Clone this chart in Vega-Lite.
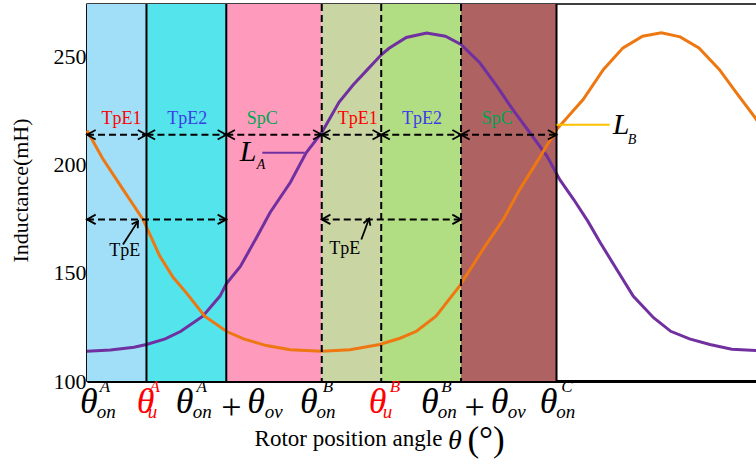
{
"$schema": "https://vega.github.io/schema/vega-lite/v6.json",
"autosize": {"type": "none"},
"padding": {"left": 87, "top": 4, "right": 0, "bottom": 84},
"width": 680,
"height": 377,
"background": "white",
"config": {"view": {"stroke": "#000", "strokeWidth": 1.5}, "font": "Liberation Serif"},
"resolve": {"scale": {"color": "independent"}},
"datasets": {
"regions": [
{"x": 0, "x2": 3.8, "seg": "r1"}, {"x": 3.8, "x2": 8.9, "seg": "r2"}, {"x": 8.9, "x2": 15, "seg": "r3"},
{"x": 15, "x2": 18.8, "seg": "r4"}, {"x": 18.8, "x2": 23.9, "seg": "r5"}, {"x": 23.9, "x2": 30, "seg": "r6"}
],
"bounds": [
{"x": 3.8, "kind": "solid"}, {"x": 8.9, "kind": "solid"}, {"x": 30, "kind": "solid"},
{"x": 15, "kind": "dash"}, {"x": 18.8, "kind": "dash"}, {"x": 23.9, "kind": "dash"}
],
"curves": [
{"s": "LA", "x": 0, "y": 113.8}, {"s": "LA", "x": 1.5, "y": 114.3}, {"s": "LA", "x": 3.0, "y": 115.6}, {"s": "LA", "x": 3.8, "y": 116.9},
{"s": "LA", "x": 5.0, "y": 119.5}, {"s": "LA", "x": 6.0, "y": 123}, {"s": "LA", "x": 7.4, "y": 130}, {"s": "LA", "x": 8.5, "y": 139.3},
{"s": "LA", "x": 8.9, "y": 145}, {"s": "LA", "x": 9.8, "y": 153}, {"s": "LA", "x": 10.8, "y": 166}, {"s": "LA", "x": 11.7, "y": 178},
{"s": "LA", "x": 13.0, "y": 192}, {"s": "LA", "x": 14.0, "y": 205.6}, {"s": "LA", "x": 15.0, "y": 215}, {"s": "LA", "x": 16.1, "y": 229},
{"s": "LA", "x": 17.0, "y": 237}, {"s": "LA", "x": 17.9, "y": 244}, {"s": "LA", "x": 18.8, "y": 251}, {"s": "LA", "x": 19.3, "y": 254},
{"s": "LA", "x": 20.4, "y": 259}, {"s": "LA", "x": 21.7, "y": 261.1}, {"s": "LA", "x": 22.9, "y": 259.6}, {"s": "LA", "x": 23.9, "y": 255.8},
{"s": "LA", "x": 25.1, "y": 247.3}, {"s": "LA", "x": 26.2, "y": 236.4}, {"s": "LA", "x": 27.2, "y": 225.7}, {"s": "LA", "x": 28.3, "y": 214.9},
{"s": "LA", "x": 29.4, "y": 204}, {"s": "LA", "x": 30.2, "y": 193.3}, {"s": "LA", "x": 31.1, "y": 184}, {"s": "LA", "x": 32.0, "y": 174},
{"s": "LA", "x": 32.8, "y": 164}, {"s": "LA", "x": 33.9, "y": 151}, {"s": "LA", "x": 34.9, "y": 139.3}, {"s": "LA", "x": 36.2, "y": 129.3},
{"s": "LA", "x": 37.3, "y": 123}, {"s": "LA", "x": 38.5, "y": 119.5}, {"s": "LA", "x": 39.8, "y": 116.9}, {"s": "LA", "x": 41.2, "y": 114.7},
{"s": "LA", "x": 43.4, "y": 113.8},
{"s": "LB", "x": 0, "y": 215.9}, {"s": "LB", "x": 1.0, "y": 203}, {"s": "LB", "x": 2.3, "y": 188.7}, {"s": "LB", "x": 2.73, "y": 184},
{"s": "LB", "x": 3.58, "y": 174.8}, {"s": "LB", "x": 4.65, "y": 157.8}, {"s": "LB", "x": 5.5, "y": 148}, {"s": "LB", "x": 6.35, "y": 140.8},
{"s": "LB", "x": 7.52, "y": 130}, {"s": "LB", "x": 8.9, "y": 123}, {"s": "LB", "x": 10.0, "y": 119.5}, {"s": "LB", "x": 11.46, "y": 116.4},
{"s": "LB", "x": 13.0, "y": 114.5}, {"s": "LB", "x": 15.0, "y": 113.8}, {"s": "LB", "x": 16.8, "y": 114.5}, {"s": "LB", "x": 18.7, "y": 116.9},
{"s": "LB", "x": 20.0, "y": 119.8}, {"s": "LB", "x": 21.05, "y": 123}, {"s": "LB", "x": 22.3, "y": 130}, {"s": "LB", "x": 23.8, "y": 143.9},
{"s": "LB", "x": 25.3, "y": 160.9}, {"s": "LB", "x": 26.6, "y": 174.8}, {"s": "LB", "x": 27.65, "y": 188.7}, {"s": "LB", "x": 28.8, "y": 202},
{"s": "LB", "x": 30.0, "y": 216.4}, {"s": "LB", "x": 31.7, "y": 230.3}, {"s": "LB", "x": 33.0, "y": 244.2}, {"s": "LB", "x": 34.25, "y": 254.2},
{"s": "LB", "x": 35.5, "y": 259.6}, {"s": "LB", "x": 36.7, "y": 261.2}, {"s": "LB", "x": 37.9, "y": 259.3}, {"s": "LB", "x": 39.1, "y": 254.2},
{"s": "LB", "x": 40.4, "y": 244.2}, {"s": "LB", "x": 41.5, "y": 233.4}, {"s": "LB", "x": 42.7, "y": 221.8}, {"s": "LB", "x": 43.4, "y": 214}
],
"spans": [
{"x": 0, "x2": 3.8, "y": 214}, {"x": 3.8, "x2": 8.9, "y": 214}, {"x": 8.9, "x2": 15, "y": 214},
{"x": 15, "x2": 18.8, "y": 214}, {"x": 18.8, "x2": 23.9, "y": 214}, {"x": 23.9, "x2": 30, "y": 214},
{"x": 0, "x2": 8.9, "y": 174.8}, {"x": 15, "x2": 23.9, "y": 174.8}
],
"heads": [
{"x": 0, "y": 214, "dir": "L"}, {"x": 3.8, "y": 214, "dir": "L"}, {"x": 8.9, "y": 214, "dir": "L"}, {"x": 15, "y": 214, "dir": "L"}, {"x": 18.8, "y": 214, "dir": "L"}, {"x": 23.9, "y": 214, "dir": "L"},
{"x": 3.8, "y": 214, "dir": "R"}, {"x": 8.9, "y": 214, "dir": "R"}, {"x": 15, "y": 214, "dir": "R"}, {"x": 18.8, "y": 214, "dir": "R"}, {"x": 23.9, "y": 214, "dir": "R"}, {"x": 30, "y": 214, "dir": "R"},
{"x": 0, "y": 174.8, "dir": "L"}, {"x": 15, "y": 174.8, "dir": "L"}, {"x": 8.9, "y": 174.8, "dir": "R"}, {"x": 23.9, "y": 174.8, "dir": "R"}
],
"phaseLabels": [
{"x": 2.2, "y": 221.1, "t": "TpE1"}, {"x": 6.4, "y": 221.1, "t": "TpE2"}, {"x": 11.2, "y": 221.1, "t": "SpC"},
{"x": 17.3, "y": 221.1, "t": "TpE1"}, {"x": 21.4, "y": 221.1, "t": "TpE2"}, {"x": 26.2, "y": 221.1, "t": "SpC"}
],
"tpe": [
{"x": 2.41, "y": 160.1, "t": "TpE"}, {"x": 16.47, "y": 160.9, "t": "TpE"}
],
"pointers": [
{"id": 1, "x": 2.3, "y": 163.2, "x2": 3.26, "y2": 174},
{"id": 2, "x": 17.53, "y": 165.5, "x2": 18.02, "y2": 175.1}
],
"leaders": [
{"s": "LA", "x": 11.2, "x2": 13.9, "y": 205.6},
{"s": "LB", "x": 30.0, "x2": 33.4, "y": 218.6}
],
"curveNames": [
{"x": 9.76, "y": 202, "t": "L", "k": "main"}, {"x": 10.84, "y": 198, "t": "A", "k": "sub"},
{"x": 33.59, "y": 214.1, "t": "L", "k": "main"}, {"x": 34.55, "y": 209.5, "t": "B", "k": "sub"}
],
"thetas": [
{"x": 0.11, "y": 85.4, "role": "on"}, {"x": 3.75, "y": 85.4, "role": "u"}, {"x": 6.24, "y": 85.4, "role": "on"},
{"x": 10.81, "y": 85.4, "role": "on"}, {"x": 14.17, "y": 85.4, "role": "on"}, {"x": 18.57, "y": 85.4, "role": "u"},
{"x": 21.9, "y": 85.4, "role": "on"}, {"x": 26.37, "y": 85.4, "role": "on"}, {"x": 29.5, "y": 85.4, "role": "on"}
],
"subs": [
{"x": 0.63, "y": 83.0, "t": "on", "role": "on"}, {"x": 3.88, "y": 83.0, "t": "u", "role": "u"}, {"x": 6.75, "y": 83.0, "t": "on", "role": "on"},
{"x": 11.35, "y": 83.0, "t": "ov", "role": "on"}, {"x": 14.66, "y": 83.0, "t": "on", "role": "on"}, {"x": 18.9, "y": 83.0, "t": "u", "role": "u"},
{"x": 22.41, "y": 83.0, "t": "on", "role": "on"}, {"x": 26.88, "y": 83.0, "t": "ov", "role": "on"}, {"x": 29.99, "y": 83.0, "t": "on", "role": "on"}
],
"sups": [
{"x": 0.81, "y": 94.7, "t": "A", "role": "on"}, {"x": 4.0, "y": 94.7, "t": "A", "role": "u"}, {"x": 7.0, "y": 94.7, "t": "A", "role": "on"},
{"x": 15.06, "y": 94.7, "t": "B", "role": "on"}, {"x": 19.34, "y": 94.7, "t": "B", "role": "u"}, {"x": 22.64, "y": 94.7, "t": "B", "role": "on"},
{"x": 30.31, "y": 94.7, "t": "C", "role": "on"}
],
"pluses": [
{"x": 9.23, "y": 87.7, "t": "+"}, {"x": 24.77, "y": 87.7, "t": "+"}
],
"xtitle": [
{"x": 10.71, "y": 69.7, "t": "Rotor position angle", "k": "words"},
{"x": 23.5, "y": 68.3, "t": "θ", "k": "theta"},
{"x": 25.5, "y": 67.5, "t": "(°)", "k": "paren"}
]
},
"layer": [
{
"data": {"name": "regions"},
"mark": {"type": "rect"},
"encoding": {
"x": {"field": "x", "type": "quantitative", "scale": {"domain": [0, 43.45], "nice": false, "zero": false}, "axis": {"domain": true, "domainColor": "#000", "domainWidth": 3, "ticks": false, "labels": false, "grid": false, "title": null}},
"x2": {"field": "x2"},
"color": {"field": "seg", "type": "nominal", "scale": {"domain": ["r1", "r2", "r3", "r4", "r5", "r6"], "range": ["#A0DFF7", "#54E4EC", "#FE9ABC", "#C9D6A4", "#B1DE83", "#AE6262"]}, "legend": null}
}
},
{
"data": {"name": "curves"},
"mark": {"type": "line", "strokeWidth": 3},
"encoding": {
"x": {"field": "x", "type": "quantitative", "scale": {"domain": [0, 43.45], "nice": false, "zero": false}},
"y": {"field": "y", "type": "quantitative", "scale": {"domain": [100, 274.5], "nice": false, "zero": false},
"axis": {"values": [100, 150, 200, 250], "grid": false, "domainColor": "#000", "domainWidth": 2.5, "tickColor": "#000", "tickSize": -8, "tickWidth": 1.5, "labelFont": "Liberation Serif", "labelFontSize": 22, "labelColor": "#000", "labelPadding": 9,
"title": "Inductance(mH)", "titleFont": "Liberation Serif", "titleFontSize": 22, "titleFontWeight": "normal", "titleColor": "#000", "titleAngle": 270, "titleX": -67, "titleY": 186, "titleAlign": "center", "titleBaseline": "middle"}},
"color": {"field": "s", "type": "nominal", "scale": {"domain": ["LA", "LB"], "range": ["#7030A0", "#EE7711"]}, "legend": null}
}
},
{
"data": {"name": "bounds"},
"transform": [{"filter": "datum.kind == 'solid'"}],
"mark": {"type": "rule", "color": "#000", "strokeWidth": 2},
"encoding": {"x": {"field": "x", "type": "quantitative", "scale": {"domain": [0, 43.45], "nice": false, "zero": false}}}
},
{
"data": {"name": "bounds"},
"transform": [{"filter": "datum.kind == 'dash'"}],
"mark": {"type": "rule", "color": "#000", "strokeWidth": 2, "strokeDash": [7, 4]},
"encoding": {"x": {"field": "x", "type": "quantitative", "scale": {"domain": [0, 43.45], "nice": false, "zero": false}}}
},
{
"data": {"name": "spans"},
"mark": {"type": "rule", "color": "#000", "strokeWidth": 2, "strokeDash": [7, 4]},
"encoding": {
"x": {"field": "x", "type": "quantitative", "scale": {"domain": [0, 43.45], "nice": false, "zero": false}},
"x2": {"field": "x2"},
"y": {"field": "y", "type": "quantitative", "scale": {"domain": [100, 274.5], "nice": false, "zero": false}}
}
},
{
"data": {"name": "heads"},
"transform": [{"filter": "datum.dir == 'R'"}],
"mark": {"type": "point", "shape": "M-1,-0.55L0,0L-1,0.55", "filled": false, "stroke": "#000", "strokeWidth": 1.8, "size": 300, "opacity": 1},
"encoding": {
"x": {"field": "x", "type": "quantitative", "scale": {"domain": [0, 43.45], "nice": false, "zero": false}},
"y": {"field": "y", "type": "quantitative", "scale": {"domain": [100, 274.5], "nice": false, "zero": false}}
}
},
{
"data": {"name": "heads"},
"transform": [{"filter": "datum.dir == 'L'"}],
"mark": {"type": "point", "shape": "M1,-0.55L0,0L1,0.55", "filled": false, "stroke": "#000", "strokeWidth": 1.8, "size": 300, "opacity": 1},
"encoding": {
"x": {"field": "x", "type": "quantitative", "scale": {"domain": [0, 43.45], "nice": false, "zero": false}},
"y": {"field": "y", "type": "quantitative", "scale": {"domain": [100, 274.5], "nice": false, "zero": false}}
}
},
{
"data": {"name": "pointers"},
"mark": {"type": "rule", "color": "#000", "strokeWidth": 1.8},
"encoding": {
"x": {"field": "x", "type": "quantitative", "scale": {"domain": [0, 43.45], "nice": false, "zero": false}},
"x2": {"field": "x2"},
"y": {"field": "y", "type": "quantitative", "scale": {"domain": [100, 274.5], "nice": false, "zero": false}},
"y2": {"field": "y2"}
}
},
{
"data": {"name": "pointers"},
"transform": [{"filter": "datum.id == 1"}],
"mark": {"type": "point", "shape": "M-1,-0.6L0,0L-1,0.6", "filled": false, "stroke": "#000", "strokeWidth": 1.8, "size": 150, "angle": 303, "opacity": 1},
"encoding": {
"x": {"field": "x2", "type": "quantitative", "scale": {"domain": [0, 43.45], "nice": false, "zero": false}},
"y": {"field": "y2", "type": "quantitative", "scale": {"domain": [100, 274.5], "nice": false, "zero": false}}
}
},
{
"data": {"name": "pointers"},
"transform": [{"filter": "datum.id == 2"}],
"mark": {"type": "point", "shape": "M-1,-0.6L0,0L-1,0.6", "filled": false, "stroke": "#000", "strokeWidth": 1.8, "size": 150, "angle": 290, "opacity": 1},
"encoding": {
"x": {"field": "x2", "type": "quantitative", "scale": {"domain": [0, 43.45], "nice": false, "zero": false}},
"y": {"field": "y2", "type": "quantitative", "scale": {"domain": [100, 274.5], "nice": false, "zero": false}}
}
},
{
"data": {"name": "leaders"},
"mark": {"type": "rule", "strokeWidth": 2},
"encoding": {
"x": {"field": "x", "type": "quantitative", "scale": {"domain": [0, 43.45], "nice": false, "zero": false}},
"x2": {"field": "x2"},
"y": {"field": "y", "type": "quantitative", "scale": {"domain": [100, 274.5], "nice": false, "zero": false}},
"color": {"field": "s", "type": "nominal", "scale": {"domain": ["LA", "LB"], "range": ["#7030A0", "#FFC000"]}, "legend": null}
}
},
{
"data": {"name": "phaseLabels"},
"mark": {"type": "text", "font": "Liberation Serif", "fontSize": 18, "baseline": "middle", "align": "center"},
"encoding": {
"x": {"field": "x", "type": "quantitative", "scale": {"domain": [0, 43.45], "nice": false, "zero": false}},
"y": {"field": "y", "type": "quantitative", "scale": {"domain": [100, 274.5], "nice": false, "zero": false}},
"text": {"field": "t"},
"color": {"field": "t", "type": "nominal", "scale": {"domain": ["TpE1", "TpE2", "SpC"], "range": ["#FF0000", "#3C3CE6", "#00A651"]}, "legend": null}
}
},
{
"data": {"name": "tpe"},
"mark": {"type": "text", "font": "Liberation Serif", "fontSize": 18, "baseline": "middle", "align": "center", "color": "#000"},
"encoding": {
"x": {"field": "x", "type": "quantitative", "scale": {"domain": [0, 43.45], "nice": false, "zero": false}},
"y": {"field": "y", "type": "quantitative", "scale": {"domain": [100, 274.5], "nice": false, "zero": false}},
"text": {"field": "t"}
}
},
{
"data": {"name": "curveNames"},
"transform": [{"filter": "datum.k == 'main'"}],
"mark": {"type": "text", "font": "Liberation Serif", "fontStyle": "italic", "fontSize": 30, "baseline": "alphabetic", "align": "left", "color": "#000"},
"encoding": {
"x": {"field": "x", "type": "quantitative", "scale": {"domain": [0, 43.45], "nice": false, "zero": false}},
"y": {"field": "y", "type": "quantitative", "scale": {"domain": [100, 274.5], "nice": false, "zero": false}},
"text": {"field": "t"}
}
},
{
"data": {"name": "curveNames"},
"transform": [{"filter": "datum.k == 'sub'"}],
"mark": {"type": "text", "font": "Liberation Serif", "fontStyle": "italic", "fontSize": 14, "baseline": "alphabetic", "align": "left", "color": "#000"},
"encoding": {
"x": {"field": "x", "type": "quantitative", "scale": {"domain": [0, 43.45], "nice": false, "zero": false}},
"y": {"field": "y", "type": "quantitative", "scale": {"domain": [100, 274.5], "nice": false, "zero": false}},
"text": {"field": "t"}
}
},
{
"data": {"name": "thetas"},
"mark": {"type": "text", "font": "Liberation Serif", "fontStyle": "italic", "fontSize": 36, "baseline": "alphabetic", "align": "center", "text": "θ"},
"encoding": {
"x": {"field": "x", "type": "quantitative", "scale": {"domain": [0, 43.45], "nice": false, "zero": false}},
"y": {"field": "y", "type": "quantitative", "scale": {"domain": [100, 274.5], "nice": false, "zero": false}},
"color": {"field": "role", "type": "nominal", "scale": {"domain": ["on", "u"], "range": ["#000000", "#FF0000"]}, "legend": null}
}
},
{
"data": {"name": "subs"},
"mark": {"type": "text", "font": "Liberation Serif", "fontStyle": "italic", "fontSize": 19, "baseline": "alphabetic", "align": "left"},
"encoding": {
"x": {"field": "x", "type": "quantitative", "scale": {"domain": [0, 43.45], "nice": false, "zero": false}},
"y": {"field": "y", "type": "quantitative", "scale": {"domain": [100, 274.5], "nice": false, "zero": false}},
"text": {"field": "t"},
"color": {"field": "role", "type": "nominal", "scale": {"domain": ["on", "u"], "range": ["#000000", "#FF0000"]}, "legend": null}
}
},
{
"data": {"name": "sups"},
"mark": {"type": "text", "font": "Liberation Serif", "fontStyle": "italic", "fontSize": 17, "baseline": "alphabetic", "align": "left"},
"encoding": {
"x": {"field": "x", "type": "quantitative", "scale": {"domain": [0, 43.45], "nice": false, "zero": false}},
"y": {"field": "y", "type": "quantitative", "scale": {"domain": [100, 274.5], "nice": false, "zero": false}},
"text": {"field": "t"},
"color": {"field": "role", "type": "nominal", "scale": {"domain": ["on", "u"], "range": ["#000000", "#FF0000"]}, "legend": null}
}
},
{
"data": {"name": "pluses"},
"mark": {"type": "text", "font": "Liberation Serif", "fontSize": 36, "baseline": "middle", "align": "center", "color": "#000"},
"encoding": {
"x": {"field": "x", "type": "quantitative", "scale": {"domain": [0, 43.45], "nice": false, "zero": false}},
"y": {"field": "y", "type": "quantitative", "scale": {"domain": [100, 274.5], "nice": false, "zero": false}},
"text": {"field": "t"}
}
},
{
"data": {"name": "xtitle"},
"transform": [{"filter": "datum.k == 'words'"}],
"mark": {"type": "text", "font": "Liberation Serif", "fontSize": 23, "baseline": "alphabetic", "align": "left", "color": "#000"},
"encoding": {
"x": {"field": "x", "type": "quantitative", "scale": {"domain": [0, 43.45], "nice": false, "zero": false}},
"y": {"field": "y", "type": "quantitative", "scale": {"domain": [100, 274.5], "nice": false, "zero": false}},
"text": {"field": "t"}
}
},
{
"data": {"name": "xtitle"},
"transform": [{"filter": "datum.k == 'theta'"}],
"mark": {"type": "text", "font": "Liberation Serif", "fontStyle": "italic", "fontSize": 28, "baseline": "alphabetic", "align": "center", "color": "#000"},
"encoding": {
"x": {"field": "x", "type": "quantitative", "scale": {"domain": [0, 43.45], "nice": false, "zero": false}},
"y": {"field": "y", "type": "quantitative", "scale": {"domain": [100, 274.5], "nice": false, "zero": false}},
"text": {"field": "t"}
}
},
{
"data": {"name": "xtitle"},
"transform": [{"filter": "datum.k == 'paren'"}],
"mark": {"type": "text", "font": "Liberation Serif", "fontSize": 35, "baseline": "alphabetic", "align": "center", "color": "#000"},
"encoding": {
"x": {"field": "x", "type": "quantitative", "scale": {"domain": [0, 43.45], "nice": false, "zero": false}},
"y": {"field": "y", "type": "quantitative", "scale": {"domain": [100, 274.5], "nice": false, "zero": false}},
"text": {"field": "t"}
}
}
]
}
